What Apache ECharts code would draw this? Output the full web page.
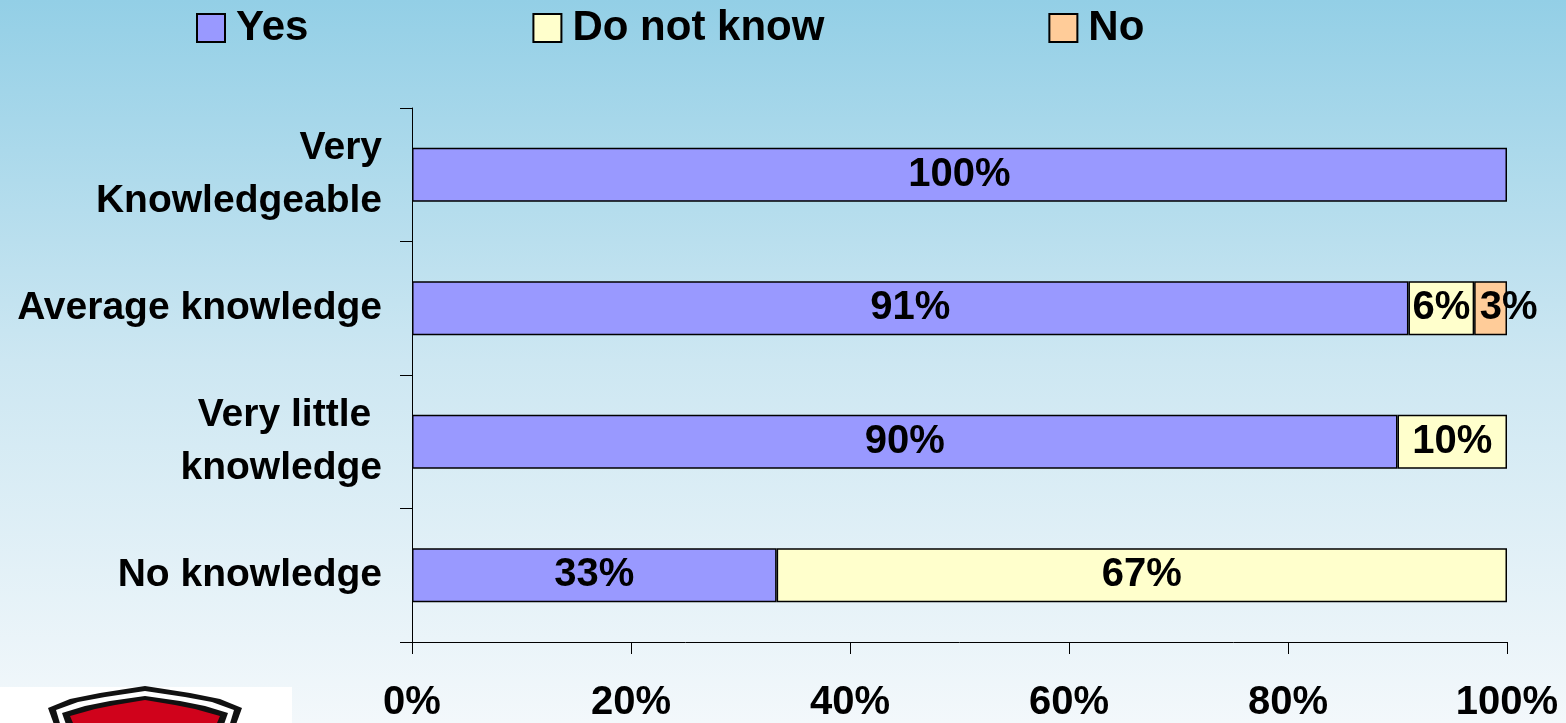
<!DOCTYPE html>
<html>
<head>
<meta charset="utf-8">
<script src="https://cdn.jsdelivr.net/npm/echarts@6/dist/echarts.min.js"></script>
<style>
html,body{margin:0;padding:0;}
#chart{width:1566px;height:723px;}
</style>
</head>
<body>
<div id="chart"></div>
<script>
// categories top to bottom
var categories = ['Very\nKnowledgeable', 'Average knowledge', 'Very little \nknowledge', 'No knowledge'];
var seriesNames = ['Yes', 'Do not know', 'No'];
var yesValues = [100, 91, 90, 33.3];
var dontKnowValues = [0, 6, 10, 66.7];
var noValues = [0, 3, 0, 0];
var xTicks = [0, 20, 40, 60, 80, 100];

var colors = ['#9999FF', '#FFFFCC', '#FFCC99'];
var font = '"Liberation Sans", Arial, sans-serif';

function pct(p) {
  if (!p.value) return '';
  return Math.round(p.value) + '%';
}

function mkSeries(name, values, color, offset) {
  return {
    name: name,
    type: 'bar',
    stack: 'total',
    barWidth: 54,
    data: values.map(function (v) { return v ? v : '-'; }),
    itemStyle: { color: color, borderColor: '#000', borderWidth: 1.5 },
    label: {
      show: true,
      position: 'inside',
      offset: offset || [0, 0],
      formatter: pct,
      color: '#000',
      fontSize: 40,
      fontWeight: 'bold',
      fontFamily: font
    }
  };
}

// logo in the lower left corner
function poly(points, fill) {
  return { type: 'polygon', silent: true, shape: { points: points }, style: { fill: fill } };
}

var chart = echarts.init(document.getElementById('chart'));
var option = {
  animation: false,
  backgroundColor: {
    type: 'linear', x: 0, y: 0, x2: 0, y2: 1,
    colorStops: [
      { offset: 0, color: '#93cfe6' },
      { offset: 0.5, color: '#cde7f2' },
      { offset: 1, color: '#f3f8fb' }
    ]
  },
  legend: {
    data: seriesNames,
    left: 191,
    top: 2,
    itemWidth: 28,
    itemHeight: 28,
    itemGap: 224,
    icon: 'rect',
    itemStyle: { borderColor: '#000', borderWidth: 2 },
    textStyle: {
      fontSize: 42,
      fontWeight: 'bold',
      fontFamily: font,
      color: '#000',
      padding: [0, 0, 0, 6]
    }
  },
  grid: { left: 412, right: 59, top: 108, bottom: 78 },
  xAxis: {
    type: 'value',
    min: xTicks[0],
    max: xTicks[xTicks.length - 1],
    interval: 20,
    splitLine: { show: false },
    axisLine: { show: true, lineStyle: { color: '#000', width: 1 } },
    axisTick: { show: true, length: 12, lineStyle: { color: '#000' } },
    axisLabel: {
      formatter: '{value}%',
      margin: 41,
      color: '#000',
      fontSize: 40,
      fontWeight: 'bold',
      fontFamily: font
    }
  },
  yAxis: {
    type: 'category',
    inverse: true,
    data: categories,
    axisLine: { show: true, lineStyle: { color: '#000', width: 1 } },
    axisTick: { show: true, length: 12, lineStyle: { color: '#000' } },
    axisLabel: {
      margin: 30,
      color: '#000',
      fontSize: 39,
      fontWeight: 'bold',
      fontFamily: font,
      lineHeight: 53,
      align: 'right'
    }
  },
  series: [
    mkSeries(seriesNames[0], yesValues, colors[0]),
    mkSeries(seriesNames[1], dontKnowValues, colors[1]),
    mkSeries(seriesNames[2], noValues, colors[2], [18, 0])
  ],
  graphic: [
    { type: 'rect', silent: true, shape: { x: 0, y: 687, width: 292, height: 40 }, style: { fill: '#fff' } },
    poly([[48,708],[70,699],[100,693],[145,686],[190,693],[220,699],[242,708],[234,730],[56,730]], '#111'),
    poly([[56,710],[78,702],[105,697],[145,691],[185,697],[212,702],[234,710],[228,730],[62,730]], '#fff'),
    poly([[62,713],[85,706],[110,701],[145,696],[180,701],[205,706],[228,713],[222,730],[68,730]], '#111'),
    poly([[70,716],[95,709],[115,705],[145,700],[175,705],[195,709],[220,716],[214,730],[76,730]], '#d0021b')
  ]
};
chart.setOption(option);
</script>
</body>
</html>
